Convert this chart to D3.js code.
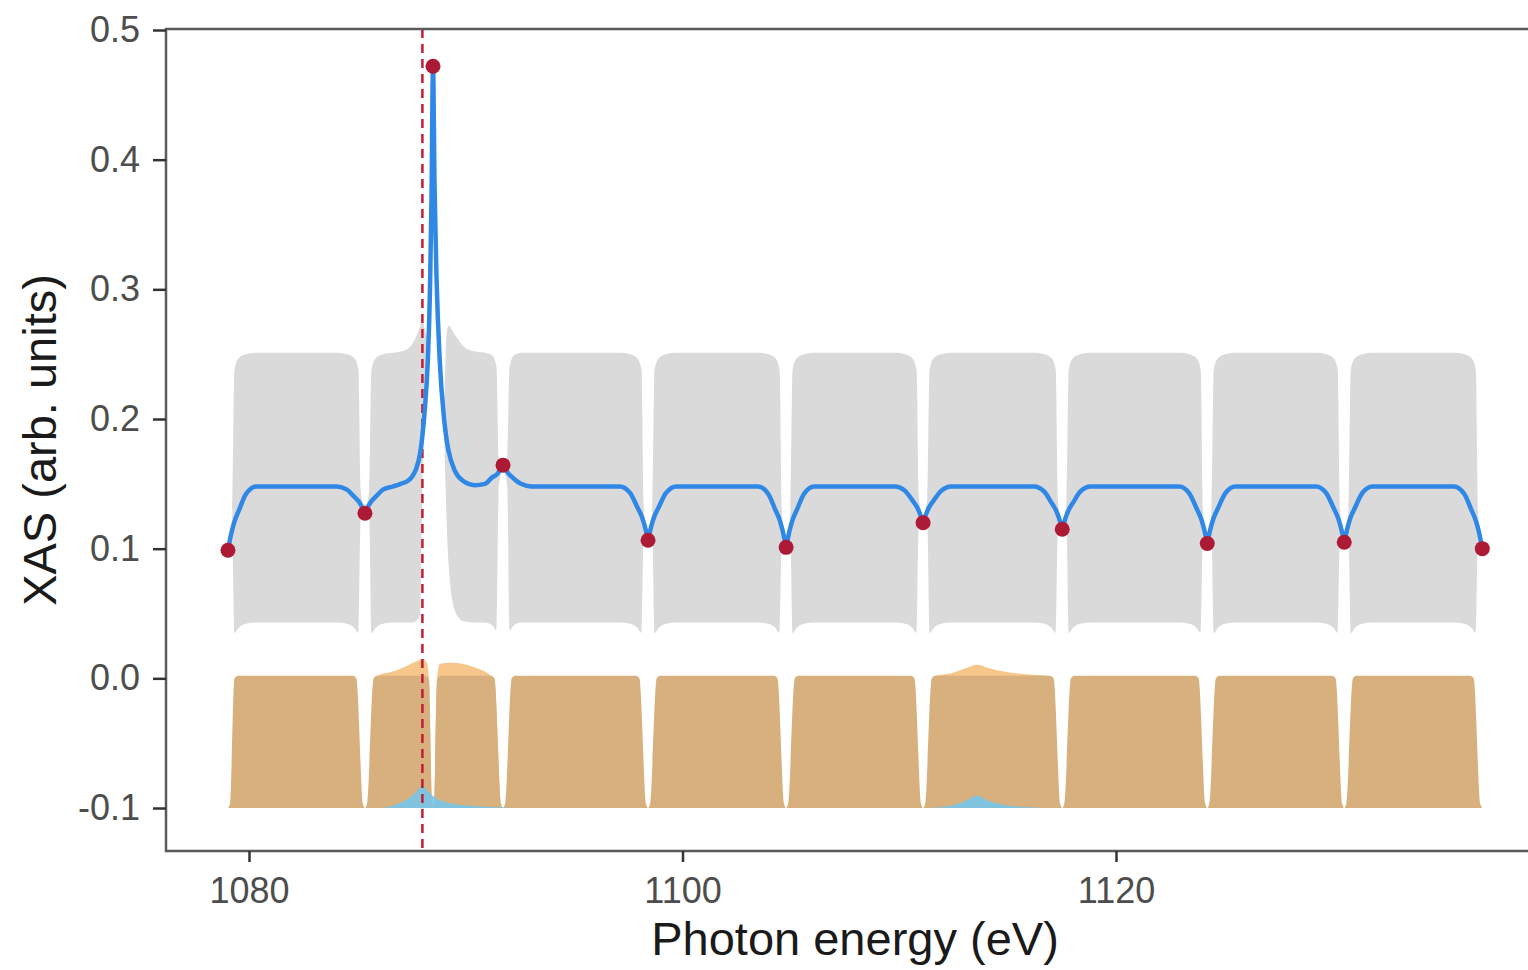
<!DOCTYPE html>
<html>
<head>
<meta charset="utf-8">
<script src="https://cdn.jsdelivr.net/npm/d3@7"></script>
<style>
  body { margin: 0; background: #fff; }
  svg { display: block; font-family: "Liberation Sans", Arial, Helvetica, sans-serif; }
</style>
</head>
<body>
<div id="chart"></div>
<script>
// ---- data ----
const xTicks = [1080, 1100, 1120];
const xTickLabels = ['1080', '1100', '1120'];
const yTicks = [-0.1, 0, 0.1, 0.2, 0.3, 0.4, 0.5];
const yTickLabels = ['-0.1', '0.0', '0.1', '0.2', '0.3', '0.4', '0.5'];

// measured points
const obsEnergy = [1079.03, 1085.35, 1088.49, 1091.72, 1098.41, 1104.78, 1111.10, 1117.52, 1124.21, 1130.53, 1136.90];
const obsXAS = [0.0988, 0.1273, 0.472, 0.1644, 0.1065, 0.101, 0.120, 0.115, 0.104, 0.105, 0.100];

// suggested next energy (dashed line)
const nextEnergy = 1088.0;

// GP fit: [energy, mean, upper, lower]
const gpRows = [
  [1079.03, 0.0988, 0.0988, 0.0988], [1079.07, 0.1022, 0.1037, 0.1007], [1079.13, 0.1077, 0.1117, 0.1037],
  [1079.23, 0.1150, 0.127, 0.103], [1079.33, 0.1209, 0.238, 0.035], [1079.53, 0.1293, 0.247, 0.039],
  [1079.86, 0.1421, 0.250, 0.042], [1080.33, 0.148, 0.251, 0.043],
  [1084.05, 0.148, 0.251, 0.043], [1084.52, 0.1455, 0.250, 0.042], [1084.85, 0.1401, 0.247, 0.039],
  [1085.05, 0.1366, 0.238, 0.035], [1085.15, 0.1341, 0.1461, 0.1221], [1085.25, 0.1310, 0.135, 0.127],
  [1085.31, 0.1287, 0.1302, 0.1272], [1085.35, 0.1273, 0.1273, 0.1273], [1085.39, 0.1287, 0.1302, 0.1272],
  [1085.45, 0.1310, 0.135, 0.127], [1085.55, 0.1341, 0.1461, 0.1221], [1085.65, 0.1366, 0.238, 0.035],
  [1085.85, 0.1401, 0.247, 0.039], [1086.18, 0.1455, 0.250, 0.042], [1086.65, 0.148, 0.251, 0.043],
  [1087.0, 0.150, 0.252, 0.043], [1087.3, 0.152, 0.254, 0.043], [1087.5, 0.155, 0.257, 0.043],
  [1087.7, 0.161, 0.263, 0.044], [1087.9, 0.174, 0.272, 0.050], [1088.0, 0.187, 0.276, 0.150],
  [1088.1, 0.205, 0.270, 0.195], [1088.25, 0.245, 0.262, 0.236], [1088.35, 0.300, 0.310, 0.293],
  [1088.42, 0.370, 0.375, 0.366], [1088.49, 0.472, 0.472, 0.472], [1088.56, 0.380, 0.385, 0.376],
  [1088.65, 0.310, 0.318, 0.304], [1088.8, 0.245, 0.255, 0.237], [1089.0, 0.200, 0.215, 0.188],
  [1089.1, 0.186, 0.262, 0.130], [1089.2, 0.176, 0.272, 0.090], [1089.5, 0.160, 0.265, 0.052],
  [1089.9, 0.152, 0.256, 0.044], [1090.42, 0.149, 0.252, 0.043],
  [1090.89, 0.150, 0.251, 0.043], [1091.22, 0.155, 0.249, 0.041], [1091.42, 0.157, 0.240, 0.037],
  [1091.52, 0.159, 0.171, 0.147], [1091.62, 0.1615, 0.1655, 0.1575], [1091.68, 0.163, 0.1645, 0.1615],
  [1091.72, 0.1644, 0.1644, 0.1644],
  [1091.76, 0.163, 0.1645, 0.1615], [1091.82, 0.1615, 0.1655, 0.1575], [1091.92, 0.159, 0.171, 0.147],
  [1092.02, 0.157, 0.240, 0.037], [1092.22, 0.154, 0.249, 0.041], [1092.55, 0.150, 0.251, 0.043],
  [1093.02, 0.148, 0.251, 0.043],
  [1097.11, 0.148, 0.251, 0.043], [1097.58, 0.143, 0.250, 0.042], [1097.91, 0.1322, 0.247, 0.039],
  [1098.11, 0.1252, 0.238, 0.035], [1098.21, 0.1202, 0.1322, 0.1082], [1098.31, 0.114, 0.118, 0.110],
  [1098.37, 0.1094, 0.1109, 0.1079], [1098.41, 0.1065, 0.1065, 0.1065], [1098.45, 0.1094, 0.1109, 0.1079],
  [1098.51, 0.114, 0.118, 0.110], [1098.61, 0.1202, 0.1322, 0.1082], [1098.71, 0.1252, 0.238, 0.035],
  [1098.91, 0.1322, 0.247, 0.039], [1099.24, 0.143, 0.250, 0.042], [1099.71, 0.148, 0.251, 0.043],
  [1103.48, 0.148, 0.251, 0.043], [1103.95, 0.1424, 0.250, 0.042], [1104.28, 0.1301, 0.247, 0.039],
  [1104.48, 0.1222, 0.238, 0.035], [1104.58, 0.1165, 0.1285, 0.1045], [1104.68, 0.1095, 0.1135, 0.1055],
  [1104.74, 0.1043, 0.1058, 0.1028], [1104.78, 0.101, 0.101, 0.101], [1104.82, 0.1043, 0.1058, 0.1028],
  [1104.88, 0.1095, 0.1135, 0.1055], [1104.98, 0.1165, 0.1285, 0.1045], [1105.08, 0.1222, 0.238, 0.035],
  [1105.28, 0.1301, 0.247, 0.039], [1105.61, 0.1424, 0.250, 0.042], [1106.08, 0.148, 0.251, 0.043],
  [1109.80, 0.148, 0.251, 0.043], [1110.27, 0.1446, 0.250, 0.042], [1110.60, 0.1374, 0.247, 0.039],
  [1110.80, 0.1326, 0.238, 0.035], [1110.90, 0.1292, 0.1412, 0.1172], [1111.00, 0.125, 0.129, 0.121],
  [1111.06, 0.122, 0.1235, 0.1205], [1111.10, 0.120, 0.120, 0.120], [1111.14, 0.122, 0.1235, 0.1205],
  [1111.20, 0.125, 0.129, 0.121], [1111.30, 0.1292, 0.1412, 0.1172], [1111.40, 0.1326, 0.238, 0.035],
  [1111.60, 0.1374, 0.247, 0.039], [1111.93, 0.1446, 0.250, 0.042], [1112.40, 0.148, 0.251, 0.043],
  [1116.22, 0.148, 0.251, 0.043], [1116.69, 0.144, 0.250, 0.042], [1117.02, 0.1355, 0.247, 0.039],
  [1117.22, 0.1299, 0.238, 0.035], [1117.32, 0.1259, 0.1379, 0.1139], [1117.42, 0.1209, 0.1249, 0.1169],
  [1117.48, 0.1173, 0.1188, 0.1158], [1117.52, 0.115, 0.115, 0.115], [1117.56, 0.1173, 0.1188, 0.1158],
  [1117.62, 0.1209, 0.1249, 0.1169], [1117.72, 0.1259, 0.1379, 0.1139], [1117.82, 0.1299, 0.238, 0.035],
  [1118.02, 0.1355, 0.247, 0.039], [1118.35, 0.144, 0.250, 0.042], [1118.82, 0.148, 0.251, 0.043],
  [1122.91, 0.148, 0.251, 0.043], [1123.38, 0.1427, 0.250, 0.042], [1123.71, 0.1313, 0.247, 0.039],
  [1123.91, 0.1238, 0.238, 0.035], [1124.01, 0.1185, 0.1305, 0.1065], [1124.11, 0.1119, 0.1159, 0.1079],
  [1124.17, 0.1071, 0.1086, 0.1056], [1124.21, 0.104, 0.104, 0.104], [1124.25, 0.1071, 0.1086, 0.1056],
  [1124.31, 0.1119, 0.1159, 0.1079], [1124.41, 0.1185, 0.1305, 0.1065], [1124.51, 0.1238, 0.238, 0.035],
  [1124.71, 0.1313, 0.247, 0.039], [1125.04, 0.1427, 0.250, 0.042], [1125.51, 0.148, 0.251, 0.043],
  [1129.23, 0.148, 0.251, 0.043], [1129.70, 0.1428, 0.250, 0.042], [1130.03, 0.1317, 0.247, 0.039],
  [1130.23, 0.1244, 0.238, 0.035], [1130.33, 0.1192, 0.1312, 0.1072], [1130.43, 0.1127, 0.1167, 0.1087],
  [1130.49, 0.108, 0.1095, 0.1065], [1130.53, 0.105, 0.105, 0.105], [1130.57, 0.108, 0.1095, 0.1065],
  [1130.63, 0.1127, 0.1167, 0.1087], [1130.73, 0.1192, 0.1312, 0.1072], [1130.83, 0.1244, 0.238, 0.035],
  [1131.03, 0.1317, 0.247, 0.039], [1131.36, 0.1428, 0.250, 0.042], [1131.83, 0.148, 0.251, 0.043],
  [1135.60, 0.148, 0.251, 0.043], [1136.07, 0.1422, 0.250, 0.042], [1136.40, 0.1298, 0.247, 0.039],
  [1136.60, 0.1216, 0.238, 0.035], [1136.70, 0.1158, 0.1278, 0.1038], [1136.80, 0.1086, 0.1126, 0.1046],
  [1136.86, 0.1034, 0.1049, 0.1019], [1136.90, 0.100, 0.100, 0.100]
];

// acquisition function (tan), top edge: [energy, value]
const acqRows = [
  [1079.03, -0.1], [1079.12, -0.097], [1079.33, 0.0], [1079.5, 0.002],
  [1084.8, 0.002], [1084.95, 0.0], [1085.26, -0.097], [1085.35, -0.1], [1085.44, -0.097], [1085.75, 0.0], [1085.9, 0.002],
  [1088.1, 0.002], [1088.3, 0.0], [1088.44, -0.095], [1088.49, -0.1], [1088.54, -0.095], [1088.68, 0.0], [1088.85, 0.002],
  [1091.17, 0.002], [1091.32, 0.0], [1091.63, -0.097], [1091.72, -0.1], [1091.81, -0.097], [1092.12, 0.0], [1092.27, 0.002],
  [1097.86, 0.002], [1098.01, 0.0], [1098.32, -0.097], [1098.41, -0.1], [1098.5, -0.097], [1098.81, 0.0], [1098.96, 0.002],
  [1104.23, 0.002], [1104.38, 0.0], [1104.69, -0.097], [1104.78, -0.1], [1104.87, -0.097], [1105.18, 0.0], [1105.33, 0.002],
  [1110.55, 0.002], [1110.7, 0.0], [1111.01, -0.097], [1111.1, -0.1], [1111.19, -0.097], [1111.5, 0.0], [1111.65, 0.002],
  [1116.97, 0.002], [1117.12, 0.0], [1117.43, -0.097], [1117.52, -0.1], [1117.61, -0.097], [1117.92, 0.0], [1118.07, 0.002],
  [1123.66, 0.002], [1123.81, 0.0], [1124.12, -0.097], [1124.21, -0.1], [1124.3, -0.097], [1124.61, 0.0], [1124.76, 0.002],
  [1129.98, 0.002], [1130.13, 0.0], [1130.44, -0.097], [1130.53, -0.1], [1130.62, -0.097], [1130.93, 0.0], [1131.08, 0.002],
  [1136.35, 0.002], [1136.5, 0.0], [1136.81, -0.097], [1136.9, -0.1]
];

// lighter acquisition bumps standing above the tan area
const acqBumpA = [
  [1085.85, -0.1], [1085.9, 0.002], [1086.6, 0.005], [1087.2, 0.009], [1087.7, 0.013], [1088.0, 0.015],
  [1088.2, 0.012], [1088.3, 0.0], [1088.44, -0.095], [1088.49, -0.1], [1088.54, -0.095], [1088.68, 0.0],
  [1088.8, 0.011], [1089.3, 0.012], [1089.9, 0.011], [1090.5, 0.008], [1090.9, 0.005], [1091.17, 0.002],
  [1091.32, 0.0], [1091.63, -0.097], [1091.72, -0.1]
];
const acqBumpB = [
  [1111.6, -0.1], [1111.65, 0.002], [1112.4, 0.004], [1113.1, 0.008], [1113.6, 0.0105], [1114.1, 0.008],
  [1114.9, 0.005], [1115.9, 0.003], [1116.8, 0.002], [1116.97, 0.0], [1117.0, -0.1]
];

// expected improvement (light blue), top edge
const improvementRows = [
  [1086.0, -0.1], [1086.6, -0.0985], [1087.1, -0.095], [1087.5, -0.091], [1087.8, -0.086], [1088.0, -0.082],
  [1088.2, -0.086], [1088.5, -0.091], [1088.9, -0.0945], [1089.5, -0.097], [1090.3, -0.0985], [1091.5, -0.0995],
  [1092.5, -0.1], [1111.4, -0.1], [1112.3, -0.0985], [1113.0, -0.095], [1113.6, -0.0905], [1114.1, -0.0945],
  [1114.8, -0.0975], [1115.8, -0.0993], [1116.8, -0.1]
];

// ---- chart ----
const W = 1528, H = 970;
const panel = { left: 166, top: 29, bottom: 851, right: 1544 };

const svg = d3.select('#chart').append('svg')
  .attr('width', W)
  .attr('height', H)
  .attr('viewBox', `0 0 ${W} ${H}`);

const x = d3.scaleLinear().domain([1080, 1120]).range([249, 1116]);
const y = d3.scaleLinear().domain([-0.1, 0.5]).range([808, 30]);
const base = -0.1;

// GP uncertainty band
svg.append('path')
  .datum(gpRows)
  .attr('fill', '#dadada')
  .attr('d', d3.area()
    .curve(d3.curveMonotoneX)
    .x(d => x(d[0]))
    .y0(d => y(d[3]))
    .y1(d => y(d[2])));

// light acquisition bumps (behind tan)
[acqBumpA, acqBumpB].forEach(rows => {
  svg.append('path')
    .datum(rows)
    .attr('fill', '#f6c68b')
    .attr('d', d3.area()
      .curve(d3.curveMonotoneX)
      .x(d => x(d[0]))
      .y0(y(base))
      .y1(d => y(d[1])));
});

// acquisition function
svg.append('path')
  .datum(acqRows)
  .attr('fill', '#d8b07e')
  .attr('d', d3.area()
    .curve(d3.curveMonotoneX)
    .x(d => x(d[0]))
    .y0(y(base))
    .y1(d => y(d[1])));

// expected improvement
svg.append('path')
  .datum(improvementRows)
  .attr('fill', '#76c5ea')
  .attr('opacity', 0.9)
  .attr('d', d3.area()
    .curve(d3.curveMonotoneX)
    .x(d => x(d[0]))
    .y0(y(base))
    .y1(d => y(d[1])));

// next energy
svg.append('line')
  .attr('x1', x(nextEnergy)).attr('x2', x(nextEnergy))
  .attr('y1', panel.top).attr('y2', panel.bottom)
  .attr('stroke', '#c21d35')
  .attr('stroke-width', 2.5)
  .attr('stroke-dasharray', '9,6');

// GP mean
svg.append('path')
  .datum(gpRows)
  .attr('fill', 'none')
  .attr('stroke', '#2f88e6')
  .attr('stroke-width', 4.5)
  .attr('stroke-linejoin', 'round')
  .attr('d', d3.line()
    .curve(d3.curveMonotoneX)
    .x(d => x(d[0]))
    .y(d => y(d[1])));

// observations
svg.append('g')
  .selectAll('circle')
  .data(obsEnergy)
  .join('circle')
  .attr('cx', d => x(d))
  .attr('cy', (d, i) => y(obsXAS[i]))
  .attr('r', 7.5)
  .attr('fill', '#ad1a35');

// panel lines (left, bottom, top)
const axisColor = '#5a5a5a';
svg.append('path')
  .attr('d', `M${panel.right},${panel.top}H${panel.left}V${panel.bottom}H${panel.right}`)
  .attr('fill', 'none')
  .attr('stroke', axisColor)
  .attr('stroke-width', 2.5);

// y axis
const yAxis = svg.append('g')
  .attr('transform', `translate(${panel.left},0)`)
  .call(d3.axisLeft(y)
    .tickValues(yTicks)
    .tickFormat((d, i) => yTickLabels[i])
    .tickSize(13)
    .tickPadding(13));

// x axis
const xAxis = svg.append('g')
  .attr('transform', `translate(0,${panel.bottom})`)
  .call(d3.axisBottom(x)
    .tickValues(xTicks)
    .tickFormat((d, i) => xTickLabels[i])
    .tickSize(11)
    .tickPadding(15));

[yAxis, xAxis].forEach(g => {
  g.select('.domain').remove();
  g.selectAll('.tick line').attr('stroke', '#333').attr('stroke-width', 2.5);
  g.selectAll('.tick text')
    .attr('fill', '#4d4d4d')
    .style('font-size', '36px')
    .style('font-family', '"Liberation Sans", Arial, sans-serif');
});

// axis titles
svg.append('text')
  .attr('x', (panel.left + panel.right) / 2)
  .attr('y', 955)
  .attr('text-anchor', 'middle')
  .attr('fill', '#1a1a1a')
  .style('font-size', '47px')
  .text('Photon energy (eV)');

svg.append('text')
  .attr('transform', `translate(56,${(panel.top + panel.bottom) / 2}) rotate(-90)`)
  .attr('text-anchor', 'middle')
  .attr('fill', '#1a1a1a')
  .style('font-size', '47px')
  .text('XAS (arb. units)');
</script>
</body>
</html>
